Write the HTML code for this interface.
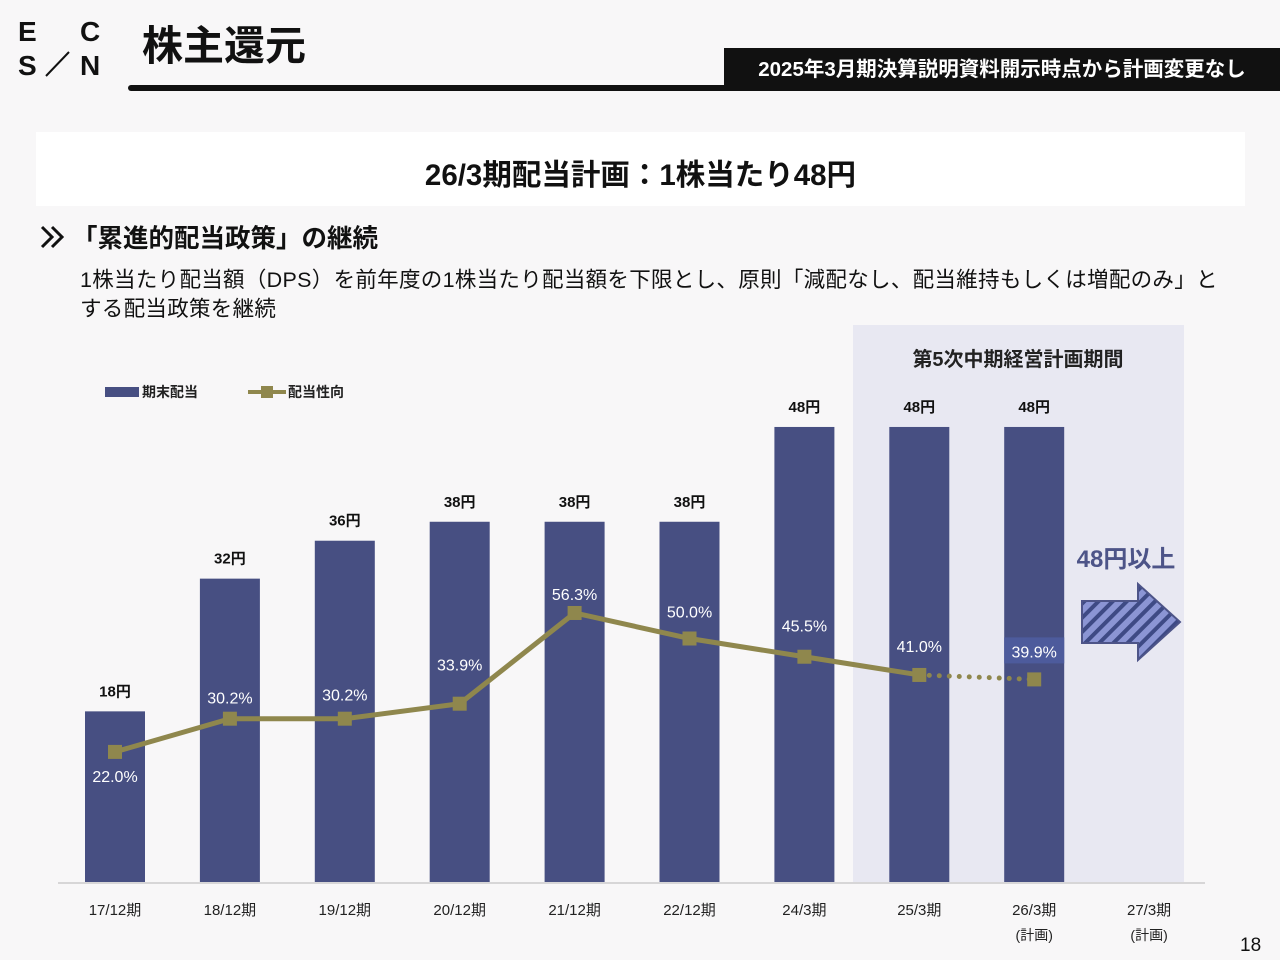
<!DOCTYPE html>
<html><head><meta charset="utf-8"><style>
body{margin:0;width:1280px;height:960px;background:#f8f7f8;font-family:"Liberation Sans","Noto Sans CJK JP",sans-serif;position:relative;overflow:hidden}
.a{position:absolute}
</style></head><body>
<div class="a" style="left:18px;top:16px;width:90px;height:65px;font-weight:bold;font-size:28px;color:#111">
<span class="a" style="left:0;top:0">E</span><span class="a" style="left:0;top:34px">S</span>
<span class="a" style="left:62px;top:0">C</span><span class="a" style="left:62px;top:34px">N</span>
<svg class="a" style="left:25px;top:18px" width="30" height="45"><line x1="26" y1="18" x2="3" y2="42" stroke="#111" stroke-width="2"/></svg></div>
<div class="a" style="left:142px;top:20px;font-size:41px;font-weight:bold;color:#111;line-height:52px">株主還元</div>
<div class="a" style="left:128px;top:85px;width:1152px;height:6px;background:#111;border-radius:3px 0 0 3px"></div>
<div class="a" style="left:724px;top:48px;width:556px;height:40px;background:#111;color:#fff;font-size:20.5px;font-weight:bold;line-height:44px;text-align:center">2025年3月期決算説明資料開示時点から計画変更なし</div>
<div class="a" style="left:36px;top:132px;width:1209px;height:74px;background:#fff;font-size:29.5px;font-weight:bold;text-align:center;line-height:88px;color:#111">26/3期配当計画：1株当たり48円</div>
<svg class="a" style="left:40px;top:224px" width="30" height="26"><polyline points="2,3 12,13 2,23" fill="none" stroke="#111" stroke-width="3"/><polyline points="12,3 22,13 12,23" fill="none" stroke="#111" stroke-width="3"/></svg>
<div class="a" style="left:72px;top:218px;font-size:25.5px;font-weight:bold;color:#111">「累進的配当政策」の継続</div>
<div class="a" style="left:80px;top:266px;width:1180px;font-size:21.5px;letter-spacing:0.3px;line-height:29px;color:#111;white-space:nowrap">1株当たり配当額（DPS）を前年度の1株当たり配当額を下限とし、原則「減配なし、配当維持もしくは増配のみ」と<br>する配当政策を継続</div>
<div class="a" style="left:1240px;top:935px;font-size:19px;color:#111">18</div>
<svg class="a" style="left:0;top:0" width="1280" height="960" id="chart"></svg>
<script>
const cats=["17/12期","18/12期","19/12期","20/12期","21/12期","22/12期","24/3期","25/3期","26/3期","27/3期"];
const subs=["","","","","","","","","(計画)","(計画)"];
const dps=[18,32,36,38,38,38,48,48,48,null];
const payout=[22.0,30.2,30.2,33.9,56.3,50.0,45.5,41.0,39.9,null];
const NS="http://www.w3.org/2000/svg";
const svg=document.getElementById('chart');
const X=i=>115+i*114.9, Yb=v=>882-v*9.48, Yp=v=>841-v*4.05;
function el(t,a,txt){const e=document.createElementNS(NS,t);for(const k in a)e.setAttribute(k,a[k]);if(txt!=null)e.textContent=txt;svg.appendChild(e);return e;}
let r=el('rect',{x:853,y:325,width:331,height:557,fill:"#e8e8f2"});

let t=el('text',{x:1018,y:366,'text-anchor':'middle','font-size':20,'font-weight':'bold',fill:'#222'},'第5次中期経営計画期間');

let ax=el('line',{x1:58,y1:883,x2:1205,y2:883,stroke:'#ccc','stroke-width':1.5});

cats.forEach((c,i)=>{
 let l=el('text',{x:X(i),y:915,'text-anchor':'middle','font-size':15,fill:'#222'},c);
 
 if(subs[i]){let s=el('text',{x:X(i),y:940,'text-anchor':'middle','font-size':14,fill:'#222'},subs[i]);
 }
 if(dps[i]!=null){
  let b=el('rect',{x:X(i)-30,y:Yb(dps[i]),width:60,height:882-Yb(dps[i]),fill:'#474f82'});
  
  let v=el('text',{x:X(i),y:Yb(dps[i])-15,'text-anchor':'middle','font-size':15,'font-weight':'bold',fill:'#111'},dps[i]+'円');
  
 }
});
let pts=[];for(let i=0;i<8;i++)pts.push(X(i)+','+Yp(payout[i]));
let pl=el('polyline',{points:pts.join(' '),fill:'none',stroke:'#8f874d','stroke-width':5});

let dl=el('line',{x1:X(7),y1:Yp(payout[7]),x2:X(8),y2:Yp(payout[8]),stroke:'#8f874d','stroke-width':5,'stroke-dasharray':'0 10','stroke-linecap':'round'});

const off=[0,-15,-18,-33,-13,-21,-25,-23,0];
payout.forEach((p,i)=>{if(p==null)return;
 let m=el('rect',{x:X(i)-7,y:Yp(p)-7,width:14,height:14,fill:'#8f874d'});
 
 const ly=i==0?Yp(p)+30:Yp(p)+off[i];
 if(i==8){let bg=el('rect',{x:X(i)-30,y:Yp(p)-42,width:60,height:26,fill:'#4d5b9c'});}
 let lb=el('text',{x:X(i),y:i==8?Yp(p)-22:ly,'text-anchor':'middle','font-size':16,fill:'#fff'},p.toFixed(1)+'%');
 
});
let lg1=el('rect',{x:105,y:387,width:34,height:10,fill:'#474f82'});
let lt1=el('text',{x:142,y:397,'font-size':14,'font-weight':'bold',fill:'#222'},'期末配当');
let lg2=el('line',{x1:248,y1:392,x2:286,y2:392,stroke:'#8f874d','stroke-width':4});
let lg3=el('rect',{x:261,y:386,width:12,height:12,fill:'#8f874d'});
let lt2=el('text',{x:288,y:397,'font-size':14,'font-weight':'bold',fill:'#222'},'配当性向');
let at=el('text',{x:1126,y:567,'text-anchor':'middle','font-size':24,'font-weight':'bold',fill:'#4d5488'},'48円以上');
const defs=el('defs',{});
defs.innerHTML='<pattern id="hat" width="10" height="10" patternUnits="userSpaceOnUse" patternTransform="rotate(45)"><rect width="10" height="10" fill="#8b95d4"/><rect width="4" height="10" fill="#3e4a85"/></pattern>';
let ar=el('polygon',{points:'1082,601 1138,601 1138,584 1180,622 1138,660 1138,643 1082,643',fill:'url(#hat)',stroke:'#4d5488','stroke-width':2});

</script>
</body></html>
